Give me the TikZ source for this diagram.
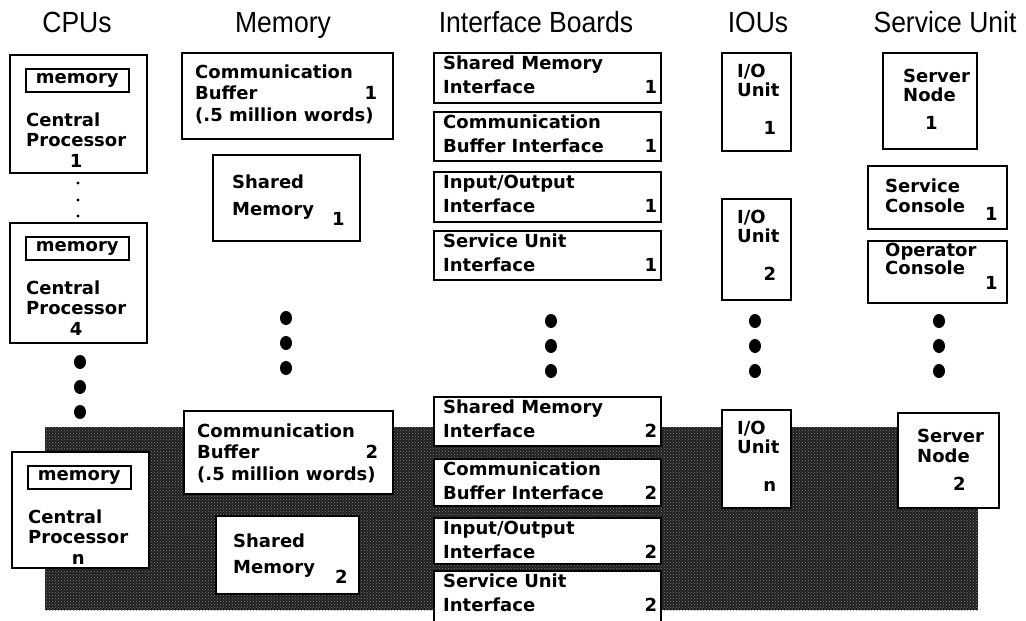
\documentclass[tikz,border=0pt]{standalone}
\usepackage{fontspec}
\usepackage{tikz}
\usetikzlibrary{calc}
\usetikzlibrary{patterns}

\newfontfamily\headfam{Liberation Sans}
\newfontfamily\boxfam{DejaVu Sans}

\def\lw{1.6pt}
\newcommand\bxfont{\boxfam\bfseries\fontsize{18}{21}\selectfont}
\newcommand\rows[2][21]{{\fontsize{18}{#1}\selectfont\begin{tabular}[t]{@{}l@{}}#2\end{tabular}}}
\newcommand\spread[3]{\makebox[#1]{#2\hfill #3}}
\newcommand\hd[1]{\scalebox{1}[1.1]{#1}}

\tikzset{
  unit/.style={draw, line width=\lw, fill=white, inner sep=0pt, anchor=north west},
  txt/.style={inner sep=0pt, anchor=base west, font=\bxfont},
  head/.style={inner sep=0pt, anchor=base, font=\headfam\fontsize{26.5}{30}\selectfont},
}

\begin{document}
\begin{tikzpicture}[x=1pt,y=-1pt]
\useasboundingbox (0,0) rectangle (1026,621);

% shaded band behind the second set
\fill[black!88] (45,427) rectangle (978,610);
\fill[pattern=crosshatch dots, pattern color=black!50] (45,427) rectangle (978,610);

% column headings
\node[head] (hcpu) at (77,32)  {\hd{CPUs}};
\node[head] (hmem) at (283,32) {\hd{Memory}};
\node[head] (hifb) at (536,32) {\hd{Interface Boards}};
\node[head] (hiou) at (758,32) {\hd{IOUs}};
\node[head] (hsvc) at (945,32) {\hd{Service Unit}};

% CPUs
\foreach \n/\x/\y/\h in {1/9/54/118, 4/9/222/120, n/11/451/116}{
  \node[unit, minimum width=137, minimum height=\h] (cpu\n) at (\x,\y) {};
  \node[unit, anchor=north, minimum width=103, minimum height=23, font=\bxfont] (mem\n) at ($(cpu\n.north)+(-1,14)$) {memory};
  \node[txt] (cpt\n) at ($(cpu\n.north west)+(17,72)$) {\rows[20.5]{Central\\Processor\\\multicolumn{1}{@{}c@{}}{\n}}};
}
\foreach \y in {183,200,216} \fill (78,\y) circle[radius=1.7];

% Memory
\node[unit, minimum width=211, minimum height=86] (cb1) at (181,52) {};
\node[txt] (cbt1) at ($(cb1.north west)+(14,26)$) {\rows[21.5]{Communication\\\spread{182pt}{Buffer}{1}\\(.5 million words)}};
\node[unit, minimum width=147, minimum height=86] (sm1) at (212,154) {};
\node[txt] (smt1) at ($(sm1.north west)+(20,34)$) {\rows[27]{Shared\\Memory\hspace{18pt}\raisebox{-10pt}{1}}};

\node[unit, minimum width=209, minimum height=83] (cb2) at (183,410) {};
\node[txt] (cbt2) at ($(cb2.north west)+(14,27)$) {\rows[21.5]{Communication\\\spread{181pt}{Buffer}{2}\\(.5 million words)}};
\node[unit, minimum width=143, minimum height=78] (sm2) at (215,515) {};
\node[txt] (smt2) at ($(sm2.north west)+(18,32)$) {\rows[26]{Shared\\Memory\hspace{20pt}\raisebox{-10pt}{2}}};

% Interface Boards
\foreach \i/\y/\h/\n/\a/\b in {1/52/50/1/Shared Memory/Interface, 2/111/49/1/Communication/Buffer Interface,
    3/171/50/1/{Input/Output}/Interface, 4/230/49/1/Service Unit/Interface,
    5/396/49/2/Shared Memory/Interface, 6/458/47/2/Communication/Buffer Interface,
    7/517/46/2/{Input/Output}/Interface, 8/570/60/2/Service Unit/Interface}{
  \node[unit, minimum width=227, minimum height=\h] (ifb\i) at (433,\y) {};
  \node[txt] (ifbt\i) at ($(ifb\i.north west)+(10,17)$) {\rows[24]{\a\\\spread{214pt}{\b}{\n}}};
}

% IOUs
\foreach \n/\y/\h in {1/52/98, 2/198/101, n/409/98}{
  \node[unit, minimum width=69, minimum height=\h] (iou\n) at (721,\y) {};
  \node[txt] (iout\n) at ($(iou\n.north west)+(16,25)$) {\rows[19]{I/O\\Unit\\[19pt]\makebox[39pt][r]{\n}}};
}

% Service Unit
\node[unit, minimum width=94, minimum height=96] (sn1) at (882,52) {};
\node[txt] (snt1) at ($(sn1.north west)+(21,30)$) {\rows[18]{Server\\Node\\[10pt]\hspace*{22pt}1}};
\node[unit, minimum width=139, minimum height=63] (sc) at (867,165) {};
\node[txt] (sct) at ($(sc.north west)+(18,27)$) {\rows[20]{Service\\Console\hspace{20pt}\raisebox{-8pt}{1}}};
\node[unit, minimum width=139, minimum height=62] (oc) at (867,240) {};
\node[txt] (oct) at ($(oc.north west)+(18,16)$) {\rows[16]{Operator\\Console\hspace{20pt}\raisebox{-15pt}{1}}};
\node[unit, minimum width=101, minimum height=95] (sn2) at (897,412) {};
\node[txt] (snt2) at ($(sn2.north west)+(20,30)$) {\rows[20]{Server\\Node\\[8pt]\hspace*{36pt}2}};

% big dots
\foreach \x/\y in {80/362, 286/318, 551/321, 755/321, 939/321}
  \foreach \k in {0,1,2}
    \fill (\x,\y+25*\k) ellipse[x radius=6, y radius=7];

\end{tikzpicture}
\end{document}
